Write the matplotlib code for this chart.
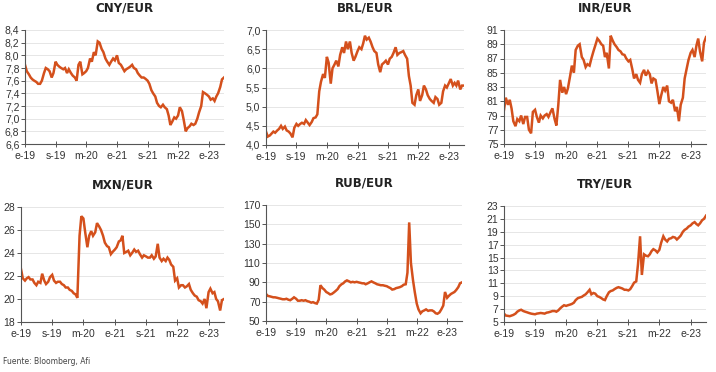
import matplotlib
matplotlib.use("Agg")
import matplotlib.pyplot as plt
from matplotlib.ticker import FuncFormatter
import pandas as pd

# semi-monthly observations, 1st and 15th of each month, Jan 2019 -> May 2023
dates = pd.date_range("2019-01-01", "2023-05-01", freq="SMS")

cny = [7.85, 7.75, 7.70, 7.65, 7.62, 7.60, 7.58, 7.55, 7.55, 7.60, 7.72, 7.80,
       7.78, 7.75, 7.65, 7.72, 7.90, 7.85, 7.82, 7.80, 7.78, 7.80, 7.72, 7.78,
       7.72, 7.68, 7.65, 7.60, 7.85, 7.90, 7.70, 7.72, 7.75, 7.80, 7.95, 7.90,
       8.05, 8.00, 8.22, 8.20, 8.10, 8.05, 7.95, 7.90, 7.85, 7.90, 7.95, 7.92,
       8.00, 7.88, 7.85, 7.80, 7.75, 7.78, 7.80, 7.82, 7.85, 7.80, 7.78, 7.72,
       7.68, 7.65, 7.65, 7.63, 7.60, 7.55, 7.45, 7.40, 7.35, 7.25, 7.20, 7.18,
       7.22, 7.18, 7.15, 7.05, 6.90, 6.95, 7.02, 7.00, 7.05, 7.18, 7.12, 6.98,
       6.80, 6.85, 6.88, 6.92, 6.90, 6.92, 7.00, 7.10, 7.20, 7.42, 7.40, 7.38,
       7.35, 7.30, 7.32, 7.28, 7.35, 7.40, 7.50, 7.62, 7.65]

brl = [4.35, 4.22, 4.25, 4.30, 4.35, 4.32, 4.38, 4.42, 4.50, 4.42, 4.48, 4.38,
       4.35, 4.30, 4.20, 4.45, 4.55, 4.50, 4.55, 4.58, 4.55, 4.65, 4.58, 4.52,
       4.60, 4.70, 4.72, 4.80, 5.40, 5.65, 5.85, 5.75, 6.30, 6.15, 5.60, 6.00,
       6.10, 6.20, 6.05, 6.35, 6.55, 6.40, 6.70, 6.50, 6.70, 6.40, 6.20, 6.30,
       6.45, 6.55, 6.50, 6.65, 6.85, 6.75, 6.80, 6.70, 6.55, 6.45, 6.40, 6.10,
       5.90, 6.10, 6.15, 6.20, 6.10, 6.25, 6.30, 6.40, 6.55, 6.35, 6.40, 6.42,
       6.45, 6.35, 6.25, 5.80, 5.55, 5.10, 5.05, 5.30, 5.45, 5.15, 5.30, 5.55,
       5.45, 5.30, 5.20, 5.15, 5.10, 5.25, 5.20, 5.05, 5.10, 5.40, 5.55, 5.50,
       5.62, 5.72, 5.55, 5.62, 5.55, 5.68, 5.45, 5.55, 5.55]

inr = [79.8, 81.5, 80.5, 81.2, 80.0, 78.2, 77.5, 78.5, 78.2, 79.0, 77.8, 78.8,
       78.8, 77.0, 76.5, 79.5, 79.8, 78.8, 78.0, 79.0, 78.6, 79.0, 79.2, 78.8,
       79.5, 80.0, 78.5, 77.6, 80.5, 84.0, 82.2, 83.0, 82.0, 82.8, 84.5, 86.0,
       85.0, 88.2, 88.8, 89.0, 87.2, 86.8, 85.8, 86.2, 86.0, 87.0, 88.0, 88.8,
       89.8, 89.5, 89.0, 88.8, 87.2, 87.8, 85.6, 90.2, 89.5, 89.0, 88.6, 88.2,
       88.0, 87.6, 87.5, 87.0, 86.6, 86.8, 85.5, 84.2, 84.8, 84.0, 83.6, 84.8,
       85.4, 84.6, 85.2, 84.8, 83.5, 84.2, 84.0, 82.5, 80.6, 81.8, 83.0, 82.5,
       83.2, 81.0, 80.8, 81.2, 79.6, 80.2, 78.2, 80.5, 81.5, 84.2, 85.6, 86.8,
       87.8, 88.2, 87.2, 88.8, 89.8, 88.0, 86.6, 89.2, 90.0]

mxn = [22.6, 21.8, 21.6, 21.8, 21.9, 21.7, 21.7, 21.4, 21.2, 21.5, 21.4, 22.2,
       21.6, 21.3, 21.5, 21.9, 22.1, 21.6, 21.4, 21.5, 21.5, 21.3, 21.2, 21.0,
       21.0, 20.8, 20.7, 20.5, 20.4, 20.1, 25.5, 27.2, 27.0, 25.8, 24.5, 25.5,
       25.9, 25.5, 25.8, 26.6, 26.3, 26.0, 25.5, 24.9, 24.6, 24.5, 23.9, 24.1,
       24.3, 24.5, 25.0, 25.1, 25.5, 24.0, 24.1, 24.2, 23.8, 24.0, 24.3, 24.1,
       24.2, 23.9, 23.6, 23.8, 23.7, 23.6, 23.6, 23.8, 23.5, 23.7, 24.8, 23.6,
       23.3, 23.5, 23.3, 23.6, 23.4, 23.0, 22.8, 21.6, 21.8, 21.0, 21.2, 21.2,
       21.0, 21.1, 21.3, 20.8, 20.5, 20.3, 20.2, 19.9, 19.8, 19.6, 20.0, 19.2,
       20.6, 20.9, 20.5, 20.6, 20.0, 19.8, 19.0, 19.9, 20.0]

rub = [78, 76, 75.5, 75, 74.5, 74.5, 74, 73.5, 73, 72.5, 72.5, 73,
       72, 71.5, 73, 74.5, 73, 71, 71, 71.5, 71, 71.5, 70.5, 70,
       69, 69.5, 68.5, 68, 72, 87, 84, 82.5, 80, 79, 77.5, 78,
       79.5, 81, 83, 86, 88, 89, 91, 92, 91, 90, 90.5, 90,
       90.5, 90, 89.5, 89, 89, 88, 89, 90, 91, 90, 89, 88,
       87.5, 87, 87, 86.5, 86, 85, 84, 82.5, 83, 84, 84.5, 85,
       86, 87.5, 88, 100, 152, 110, 92, 80, 68, 62, 58, 60,
       61, 62, 60.5, 61, 61, 60, 58, 57.5, 59, 62, 66, 80,
       74, 76, 78, 79, 80, 82, 85, 89, 90]

try_ = [6.3, 6.0, 5.95, 5.9, 6.0, 6.1, 6.3, 6.6, 6.8, 6.9, 6.7, 6.6,
        6.5, 6.4, 6.3, 6.25, 6.2, 6.3, 6.35, 6.4, 6.35, 6.3, 6.45, 6.5,
        6.6, 6.7, 6.7, 6.6, 6.8, 7.1, 7.4, 7.6, 7.5, 7.6, 7.7, 7.8,
        8.0, 8.4, 8.7, 8.8, 8.9, 9.1, 9.3, 9.6, 10.0, 9.3, 9.5, 9.4,
        9.0, 8.9, 8.7, 8.5, 8.4, 9.0, 9.6, 9.8, 9.9, 10.1, 10.3, 10.4,
        10.3, 10.2, 10.0, 10.0, 9.9, 10.1, 10.6, 11.1, 11.3, 14.0, 18.3, 12.3,
        15.5, 15.3, 15.2, 15.5, 16.0, 16.3, 16.1, 15.8, 16.2, 17.3, 18.3, 17.8,
        17.5, 17.9, 18.0, 18.2, 18.1, 17.8, 18.1, 18.4, 19.0, 19.3, 19.5, 19.8,
        20.0, 20.3, 20.5, 20.2, 20.0, 20.3, 20.8, 21.0, 21.5]

titles = ["CNY/EUR", "BRL/EUR", "INR/EUR", "MXN/EUR", "RUB/EUR", "TRY/EUR"]
series = [cny, brl, inr, mxn, rub, try_]
ylims = [(6.6, 8.4, 0.2), (4.0, 7.0, 0.5), (75, 91, 2),
         (18, 28, 2), (50, 170, 20), (5, 23, 2)]
decimals = [1, 1, 0, 0, 0, 0]

xtick_dates = pd.to_datetime(["2019-01-01", "2019-09-01", "2020-05-01", "2021-01-01",
                              "2021-09-01", "2022-05-01", "2023-01-01"])
xtick_labels = ["e-19", "s-19", "m-20", "e-21", "s-21", "m-22", "e-23"]

W, H = 716, 372
# axes boxes in pixels: left, top, right, bottom
boxes = [(25, 30, 224, 144), (266, 30, 464, 145), (504, 30, 706, 144),
         (21, 207, 224, 322), (266, 205, 462, 321), (504, 206, 706, 322)]

color = "#D4501C"
fig = plt.figure(figsize=(W / 100, H / 100), dpi=100)

for i in range(6):
    l, t, r, b = boxes[i]
    ax = fig.add_axes([l / W, 1 - b / H, (r - l) / W, (b - t) / H])
    ax.plot(dates, series[i], color=color, lw=1.8, solid_joinstyle="miter")
    lo, hi, step = ylims[i]
    n = int(round((hi - lo) / step))
    yt = [lo + k * step for k in range(n + 1)]
    ax.set_ylim(lo, hi)
    ax.set_yticks(yt)
    d = decimals[i]
    ax.yaxis.set_major_formatter(FuncFormatter(
        lambda v, p, d=d: (f"{v:.{d}f}").replace(".", ",")))
    ax.set_xlim(dates[0], dates[-1])
    ax.set_xticks(xtick_dates)
    ax.set_xticklabels(xtick_labels)
    ax.grid(axis="y", color="#e6e6e6", lw=0.7)
    ax.set_axisbelow(True)
    for s in ["top", "right"]:
        ax.spines[s].set_visible(False)
    for s in ["left", "bottom"]:
        ax.spines[s].set_color("#555555")
        ax.spines[s].set_linewidth(0.8)
    ax.tick_params(axis="y", length=3, width=0.7, color="#555555", pad=1,
                   labelsize=7.5, labelcolor="#333333")
    ax.tick_params(axis="x", direction="inout", length=4, width=0.7, color="#555555",
                   pad=3, labelsize=7.5, labelcolor="#333333")
    for lab in ax.get_xticklabels() + ax.get_yticklabels():
        lab.set_fontfamily("Liberation Sans")
    fig.text((l + r) / 2 / W, 1 - (t - 22) / H, titles[i], ha="center", va="center",
             fontsize=8.5, fontweight="bold", color="#222222", family="DejaVu Sans")

fig.text(3 / W, 1 - 362 / H, "Fuente: Bloomberg, Afi", ha="left", va="center",
         fontsize=5.5, color="#444444", family="DejaVu Sans")

fig.savefig("out.png", dpi=100)
